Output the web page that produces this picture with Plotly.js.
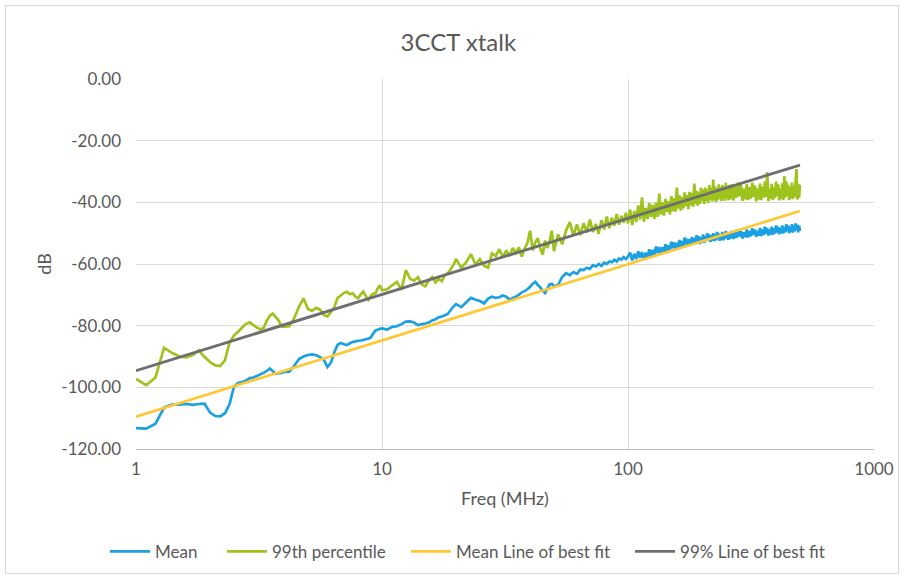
<!DOCTYPE html>
<html><head><meta charset="utf-8">
<script src="https://cdn.plot.ly/plotly-3.0.1.min.js"></script>
<style>
html,body{margin:0;padding:0;background:#fff}
#wrap{position:relative;width:904px;height:578px}
#chart{width:904px;height:578px}
#frame{position:absolute;left:5px;top:5px;width:892px;height:567px;border:1px solid #d9d9d9;pointer-events:none}
</style>
</head><body><div id="wrap"><div id="chart"></div><div id="frame"></div></div>
<script>
// Frequency (MHz)
const freq = [
1.0,1.1,1.2,1.3,1.4,1.5,1.6,1.7,1.8,1.9,2.0,2.1,2.2,2.3,2.4,2.5,2.6,2.7,2.8,2.9,3.0,3.1,3.2,3.3,3.4,3.5,3.6,3.7,3.8,3.9,4.0,
4.2,4.4,4.6,4.8,5.0,5.2,5.4,5.6,5.8,6.0,6.2,6.4,6.6,6.8,7.0,7.2,7.4,7.6,7.8,8.0,8.2,8.4,8.6,8.8,9.0,9.2,9.4,9.6,9.8,10.0,
10.5,11,11.5,12,12.5,13,13.5,14,14.5,15,15.5,16,16.5,17,17.5,18,18.5,19,19.5,20,
21,22,23,24,25,26,27,28,29,30,31,32,33,34,35,36,37,38,39,40,41,42,43,44,45,46,47,48,49,50,
52,54,56,58,60,62,64,66,68,70,72,74,76,78,80,82,84,86,88,90,92,94,96,98,100,
102,104,106,108,110,112,114,116,118,120,122,124,126,128,130,132,134,136,138,140,
142,144,146,148,150,152,154,156,158,160,162,164,166,168,170,172,174,176,178,180,
182,184,186,188,190,192,194,196,198,200,202,204,206,208,210,212,214,216,218,220,
222,224,226,228,230,232,234,236,238,240,242,244,246,248,250,252,254,256,258,260,
264,268,272,276,280,284,288,292,296,300,304,308,312,316,320,324,328,332,336,340,
344,348,352,356,360,364,368,372,376,380,384,388,392,396,400,404,408,412,416,420,
424,428,432,436,440,444,448,452,456,460,464,468,472,476,480,484,488,492,496,500
];
// Mean (dB)
const meanDb = [
-113.2,-113.4,-111.8,-106.6,-105.6,-105.6,-105.4,-105.7,-105.4,-105.3,-108.2,-109.3,-109.4,-108.4,-105.5,-99.8,-98.6,-98.3,-97.8,-97.0,-96.8,-96.3,-95.8,-95.3,-94.7,-93.9,-94.8,-95.6,-95.4,-95.3,-95.0,
-94.9,-93.0,-90.8,-90.0,-89.5,-89.3,-89.6,-90.2,-91.0,-93.4,-92.0,-88.6,-86.2,-85.6,-86.0,-86.3,-85.7,-85.3,-85.1,-84.9,-84.8,-84.6,-84.4,-84.2,-83.8,-82.6,-81.6,-81.3,-81.0,-80.9,
-81.3,-80.4,-80.2,-79.5,-78.7,-78.6,-79.0,-79.8,-79.5,-79.3,-79.0,-78.3,-77.9,-77.3,-77.0,-76.6,-76.2,-75.0,-73.8,-73.0,
-74.0,-72.4,-71.0,-71.6,-72.0,-72.8,-71.2,-70.6,-71.0,-70.8,-70.2,-70.6,-71.6,-71.0,-70.6,-70.0,-69.2,-68.8,-68.2,-67.4,-66.4,-65.8,-66.8,-67.6,-68.6,-69.4,-68.0,-66.6,-66.4,-67.2,
-66.8,-64.2,-63.0,-63.6,-62.6,-63.2,-61.8,-62.0,-61.2,-61.6,-60.4,-60.8,-60.0,-60.6,-59.6,-60.0,-59.2,-59.4,-58.6,-59.2,-58.2,-58.6,-57.8,-58.4,-57.6,
-56.3,-58.8,-56.7,-58.4,-55.9,-58.0,-56.1,-58.5,-56.3,-57.9,-55.2,-57.7,-55.4,-57.1,-54.3,-56.5,-54.5,-56.8,-54.6,-56.2,
-53.6,-56.1,-53.9,-55.5,-52.8,-54.9,-53.0,-55.4,-53.1,-54.8,-52.2,-54.7,-52.5,-54.1,-51.4,-53.7,-51.8,-54.2,-52.0,-53.8,
-51.2,-53.8,-51.6,-53.4,-50.7,-52.9,-51.0,-53.5,-51.3,-53.0,-50.4,-53.1,-50.9,-52.6,-50.0,-52.2,-50.4,-52.9,-50.7,-52.5,
-50.0,-52.6,-50.5,-52.3,-49.6,-51.9,-50.1,-52.5,-50.4,-52.2,-49.6,-52.3,-50.2,-51.9,-49.3,-51.6,-49.7,-52.2,-50.0,-51.8,
-49.3,-51.9,-49.7,-51.5,-48.8,-51.1,-49.3,-51.7,-49.7,-51.3,-48.8,-51.4,-49.3,-51.0,-48.4,-50.6,-48.8,-51.2,-49.2,-50.8,
-48.3,-50.9,-48.8,-50.6,-47.9,-50.2,-48.3,-50.8,-48.8,-50.4,-47.9,-50.5,-48.4,-50.1,-47.5,-49.8,-47.9,-50.4,-48.3,-50.0,
-47.5,-50.1,-48.0,-49.7,-47.1,-49.4,-47.5,-50.0,-48.0,-49.6,-47.1,-49.8,-47.6,-49.4,-46.8,-49.0,-47.2,-49.7,-47.6,-49.3
];
// 99th percentile (dB)
const p99Db = [
-97.3,-99.3,-96.8,-87.2,-88.8,-90.0,-90.3,-89.5,-88.0,-90.2,-91.8,-92.9,-93.1,-91.2,-85.5,-83.2,-82.0,-80.6,-79.4,-78.9,-79.8,-80.6,-81.2,-80.8,-78.4,-76.8,-76.1,-77.2,-78.3,-80.2,-80.4,
-80.2,-77.5,-73.8,-71.2,-74.6,-75.2,-74.2,-74.8,-76.5,-77.0,-75.6,-74.0,-71.0,-70.2,-69.4,-69.0,-69.8,-69.5,-70.6,-71.1,-69.8,-69.0,-70.5,-71.6,-70.4,-69.6,-69.5,-68.0,-66.9,-68.5,
-68.2,-66.9,-65.8,-68.4,-62.0,-64.8,-65.4,-64.3,-66.6,-67.2,-65.4,-64.2,-66.0,-64.8,-65.6,-63.6,-63.0,-61.8,-60.4,-58.4,
-61.2,-59.4,-56.8,-60.2,-58.4,-60.6,-61.2,-56.6,-57.4,-55.2,-57.8,-55.6,-57.4,-54.8,-56.4,-54.6,-57.6,-55.0,-53.2,-49.2,-55.6,-53.0,-51.6,-55.0,-57.0,-52.4,-54.8,-52.6,-49.2,-55.8,
-50.4,-53.6,-49.2,-46.4,-50.8,-47.2,-50.6,-46.8,-49.8,-45.6,-49.6,-47.0,-50.2,-45.8,-48.8,-44.6,-48.4,-45.0,-47.6,-43.8,-47.2,-44.4,-46.6,-43.4,-46.8,
-42.4,-47.4,-42.8,-46.4,-41.0,-45.6,-38.4,-46.3,-41.8,-45.4,-40.3,-44.7,-40.8,-45.4,-40.1,-44.7,-37.2,-44.0,-40.0,-44.3,
-38.9,-43.1,-39.6,-44.0,-38.0,-42.9,-38.6,-43.0,-35.2,-42.0,-37.7,-42.7,-38.3,-42.0,-36.8,-41.2,-37.7,-42.2,-36.6,-41.0,
-36.9,-41.4,-33.9,-40.5,-36.3,-41.1,-36.6,-40.5,-35.2,-39.6,-35.9,-40.5,-35.2,-39.6,-35.8,-40.1,-34.4,-39.1,-35.3,-39.7,
-32.6,-39.3,-34.9,-39.9,-35.4,-39.3,-34.2,-38.8,-35.0,-39.6,-34.4,-38.9,-35.1,-39.5,-33.7,-38.6,-34.7,-39.3,-34.4,-39.0,
-34.1,-39.4,-34.9,-38.5,-33.5,-38.1,-34.3,-39.5,-35.6,-39.0,-34.1,-39.3,-35.1,-38.8,-33.6,-38.2,-34.5,-39.7,-35.5,-39.1,
-33.9,-39.3,-34.9,-38.5,-33.3,-38.2,-30.2,-39.6,-35.5,-38.9,-34.0,-39.2,-35.1,-38.6,-33.3,-38.0,-34.2,-39.4,-35.5,-38.9,
-33.8,-39.2,-31.5,-38.5,-33.2,-37.9,-34.3,-39.3,-35.2,-38.7,-33.6,-39.0,-34.7,-38.3,-33.2,-29.2,-39.1,-34.0,-38.6,-34.3
];
// Lines of best fit (endpoints at 1 MHz and 500 MHz)
const fitFreq = [1, 500];
const meanFit = [-109.5, -42.8];
const p99Fit = [-94.6, -27.9];

const seriesNames = ['Mean', '99th percentile', 'Mean Line of best fit', '99% Line of best fit'];
const xTickVals = [1, 10, 100, 1000];
const xTickText = ['1', '10', '100', '1000'];
const yTickVals = [0, -20, -40, -60, -80, -100, -120];
const yTickText = ['0.00', '-20.00', '-40.00', '-60.00', '-80.00', '-100.00', '-120.00'];

const FONT = 'Lato, "Open Sans", sans-serif';
const TXT = '#595959';

const traces = [
  {x: freq, y: meanDb, name: seriesNames[0], mode: 'lines', legend: 'legend', line: {color: '#1BA1E2', width: 2.7, simplify: false}},
  {x: freq, y: p99Db, name: seriesNames[1], mode: 'lines', legend: 'legend2', line: {color: '#9DC31C', width: 2.7, simplify: false}},
  {x: fitFreq, y: meanFit, name: seriesNames[2], mode: 'lines', legend: 'legend3', line: {color: '#FFC833', width: 2.7}},
  {x: fitFreq, y: p99Fit, name: seriesNames[3], mode: 'lines', legend: 'legend4', line: {color: '#6F6F6F', width: 2.9}}
];

function leg(x) {
  return {orientation: 'h', x: x, xanchor: 'left', y: -0.278, yanchor: 'middle',
          font: {family: FONT, size: 17, color: TXT}, itemwidth: 40, bgcolor: 'rgba(0,0,0,0)'};
}

const layout = {
  width: 904, height: 578,
  margin: {l: 136, r: 30, t: 79, b: 129, autoexpand: false},
  paper_bgcolor: '#ffffff', plot_bgcolor: '#ffffff',
  font: {family: FONT, color: TXT, size: 17},
  showlegend: true,
  title: {text: '3CCT xtalk', font: {family: FONT, size: 24, color: TXT}, x: 0.507, xanchor: 'center', y: 0.927, yanchor: 'middle'},
  xaxis: {
    type: 'log', range: [0, 3],
    tickvals: xTickVals, ticktext: xTickText,
    showgrid: true, gridcolor: '#d9d9d9', gridwidth: 1,
    showline: true, linecolor: '#bfbfbf', linewidth: 1,
    ticks: '', zeroline: false, automargin: false,
    tickfont: {family: FONT, size: 17, color: TXT},
    ticklabelstandoff: 5,
    title: {text: 'Freq (MHz)', font: {family: FONT, size: 18, color: TXT}, standoff: 13}
  },
  yaxis: {
    range: [-120, 0],
    tickvals: yTickVals, ticktext: yTickText,
    showgrid: true, gridcolor: '#d9d9d9', gridwidth: 1,
    showline: false, zeroline: false, ticks: '', automargin: false,
    tickfont: {family: FONT, size: 17, color: TXT},
    ticklabelstandoff: 14,
    title: {text: 'dB', font: {family: FONT, size: 18, color: TXT}, standoff: 5}
  },
  legend: leg(-0.042),
  legend2: leg(0.1165),
  legend3: leg(0.3659),
  legend4: leg(0.6694)
};

Plotly.newPlot('chart', traces, layout, {displayModeBar: false, staticPlot: true});
</script>
</body></html>
